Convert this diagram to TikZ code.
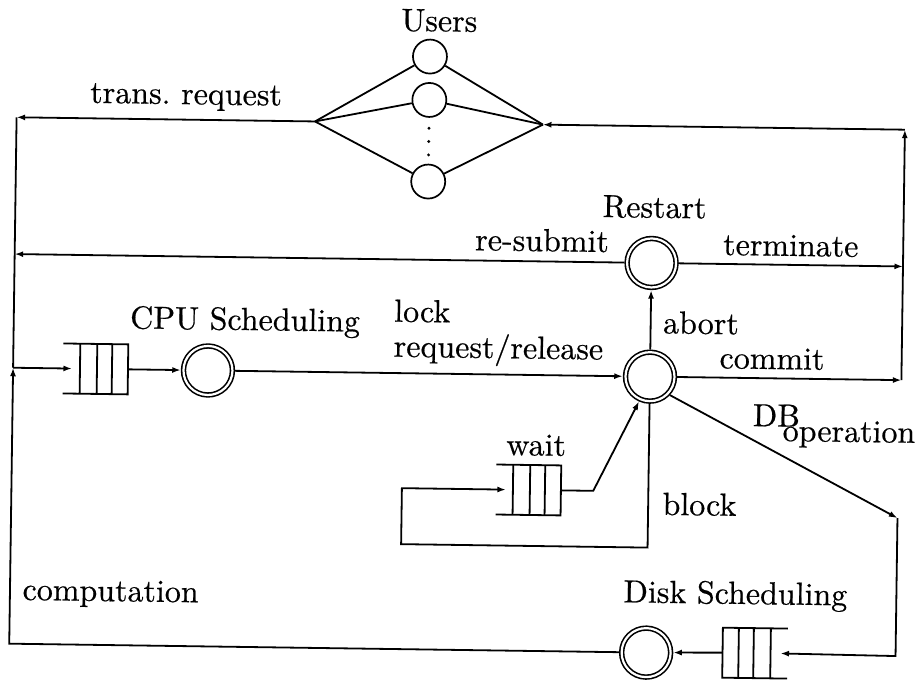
\documentclass[tikz,border=0pt]{standalone}
\usepackage{fontspec}
\newfontfamily\heavy{lmroman10-regular}[Extension=.otf,FakeBold=0.5]
\usetikzlibrary{arrows.meta}
\begin{document}
\begin{tikzpicture}[x=1pt,y=-1pt,
  line width=1.8pt,
  arr/.style={-{Latex[length=8.5pt,width=6pt]}},
  srv/.style={circle,draw,double,double distance=2.2pt,line width=1.6pt,minimum size=49pt,inner sep=0pt,outer sep=2.7pt},
  usr/.style={circle,draw,line width=1.7pt,minimum size=34pt,inner sep=0pt},
  qbox/.style={rectangle,draw=none,minimum width=65pt,minimum height=50pt,inner sep=0pt,outer sep=0pt},
  lbl/.style={font=\heavy\fontsize{32}{38}\selectfont,inner sep=0pt,anchor=base west},
  queueR/.pic={
    \draw (-32.5,-25) -- (32.5,-25) -- (32.5,25) -- (-32.5,25);
    \draw (-15.5,-25) -- (-15.5,25) (1.5,-25) -- (1.5,25) (16.5,-25) -- (16.5,25);
  }]
\useasboundingbox (0,0) rectangle (919,680);
\begin{scope}[rotate around={-0.8:(460,340)},transform shape]
% users
\node[usr] (u1) at (426,57) {};
\node[usr] (u2) at (426,100.4) {};
\node[usr] (u3) at (426,182) {};
\fill (426,128.7) circle (1.6pt) (426,142) circle (1.6pt) (426,155.4) circle (1.6pt);
\coordinate (lv) at (312,123.5);
\coordinate (rv) at (540,123.5);
\draw (lv) -- (u1); \draw (lv) -- (u2); \draw (lv) -- (u3);
\draw (rv) -- (u1); \draw (rv) -- (u2); \draw (rv) -- (u3);
% servers
\node[srv] (restart) at (650.5,260.3) {};
\node[srv] (lock) at (650.5,374) {};
\node[srv] (cpu) at (208.4,374) {};
\node[srv] (disk) at (650.5,650) {};
% queues
\node[qbox] (cq) at (95.9,374) {};
\pic at (95.9,374) {queueR};
\node[qbox] (wq) at (530.5,489) {};
\pic at (530.5,489) {queueR};
\node[qbox] (dq) at (759.4,649) {};
\pic[xscale=-1] at (759.4,649) {queueR};
% corner points
\coordinate (ltop) at (13.5,123.5);
\coordinate (lres) at (13.5,260.3);
\coordinate (ljn) at (13.5,374);
\coordinate (lbot) at (13.5,650);
\coordinate (rtop) at (902,123.5);
\coordinate (rterm) at (902,260.3);
\coordinate (rcom) at (902,374);
\coordinate (b1) at (650.5,545);
\coordinate (b2) at (404,545);
\coordinate (b3) at (404,489);
\coordinate (wk) at (595.4,489);
\coordinate (dbc) at (900,512);
\coordinate (dbb) at (900,650);
% connectors
\draw[arr] (lv) -- (ltop);
\draw (ltop) -- (ljn);
\draw[arr] (restart) -- (lres);
\draw[arr] (disk) -- (lbot) -- (ljn);
\draw[arr] (ljn) -- ([xshift=9pt]cq.west);
\draw[arr] (cq.east) -- (cpu);
\draw[arr] (cpu) -- (lock);
\draw[arr] (lock) -- (restart);
\draw[arr] (restart) -- (rterm);
\draw[arr] (lock) -- (rcom);
\draw[arr] (rcom) -- (rtop);
\draw[arr] (rtop) -- (rv);
\draw[arr] (lock.south) -- (b1) -- (b2) -- (b3) -- ([xshift=10pt]wq.west);
\draw[arr] (wq.east) -- (wk) -- (lock.247);
\draw[arr] (lock.-42) -- (dbc);
\draw[arr] (dbc) -- (dbb) -- ([xshift=-7pt]dq.east);
\draw[arr] (dq.west) -- (disk);
% labels
\node[lbl] (tUsers) at (396,31.6) {Users};
\node[lbl] (tTrans) at (86,108) {trans.\ request};
\node[lbl] (tRestart) at (600,215) {Restart};
\node[lbl] (tResub) at (473,250) {re-submit};
\node[lbl] (tTerm) at (721,251.3) {terminate};
\node[lbl] (tCPU) at (129,333) {CPU Scheduling};
\node[lbl] (tLock) at (393,322.6) {lock};
\node[lbl] (tReq) at (393,357.6) {request/release};
\node[lbl] (tAbort) at (662,330.5) {abort};
\node[lbl] (tCommit) at (719,364.7) {commit};
\node[lbl] (tDB) at (753,422) {DB\hspace{-17pt}\raisebox{-14.5pt}{operation}};
\node[lbl] (tWait) at (507,454.4) {wait};
\node[lbl] (tBlock) at (664,512) {block};
\node[lbl] (tComp) at (25.3,606) {computation};
\node[lbl,anchor=base east] (tDisk) at (851.7,600) {Disk Scheduling};
\end{scope}
\end{tikzpicture}
\end{document}
